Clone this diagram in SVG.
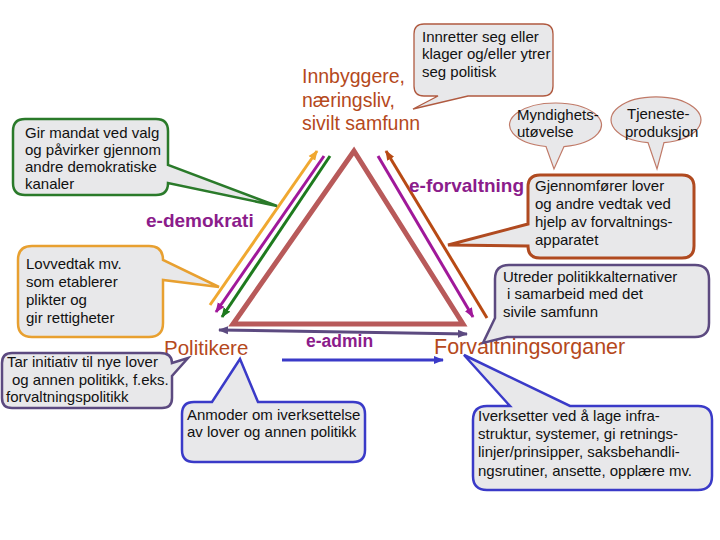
<svg xmlns="http://www.w3.org/2000/svg" width="720" height="540" viewBox="0 0 720 540">
<style>
.t{font-family:"Liberation Sans",Arial,sans-serif;font-size:15px;fill:#111}
.lbl{font-family:"Liberation Sans",Arial,sans-serif;fill:#b5491c}
.e{font-family:"Liberation Sans",Arial,sans-serif;font-weight:bold;fill:#8b1c8b}
.co{fill:#e8e8ea}
.ln{fill:none;stroke-width:3}
</style>
<defs>
<marker id="aO" viewBox="0 0 10 10" refX="9" refY="5" markerWidth="10" markerHeight="10" markerUnits="userSpaceOnUse" orient="auto-start-reverse"><path d="M0,1 L10,5 L0,9 Z" fill="#f0a830"/></marker>
<marker id="aM" viewBox="0 0 10 10" refX="9" refY="5" markerWidth="10" markerHeight="10" markerUnits="userSpaceOnUse" orient="auto-start-reverse"><path d="M0,1 L10,5 L0,9 Z" fill="#a0189a"/></marker>
<marker id="aG" viewBox="0 0 10 10" refX="9" refY="5" markerWidth="10" markerHeight="10" markerUnits="userSpaceOnUse" orient="auto-start-reverse"><path d="M0,1 L10,5 L0,9 Z" fill="#1e7a1e"/></marker>
<marker id="aB" viewBox="0 0 10 10" refX="9" refY="5" markerWidth="10" markerHeight="10" markerUnits="userSpaceOnUse" orient="auto-start-reverse"><path d="M0,1 L10,5 L0,9 Z" fill="#b84a14"/></marker>
<marker id="aP" viewBox="0 0 10 10" refX="9" refY="5" markerWidth="10" markerHeight="10" markerUnits="userSpaceOnUse" orient="auto-start-reverse"><path d="M0,1 L10,5 L0,9 Z" fill="#5c4a80"/></marker>
<marker id="aL" viewBox="0 0 10 10" refX="9" refY="5" markerWidth="10" markerHeight="10" markerUnits="userSpaceOnUse" orient="auto-start-reverse"><path d="M0,1 L10,5 L0,9 Z" fill="#3a3ac8"/></marker>
</defs>
<rect width="720" height="540" fill="#ffffff"/>

<g id="triangle">
<polygon points="354,151 233,324 463,324" fill="none" stroke="#b85a5a" stroke-width="5"/>
</g>

<g id="connectors">
<line class="ln" x1="210" y1="305" x2="317" y2="151" stroke="#f0a830" marker-end="url(#aO)"/>
<line class="ln" x1="324" y1="156" x2="216" y2="312" stroke="#a0189a" marker-end="url(#aM)"/>
<line class="ln" x1="330" y1="156" x2="222" y2="317" stroke="#1e7a1e" marker-end="url(#aG)"/>
<line class="ln" x1="378" y1="156" x2="473" y2="317" stroke="#a0189a" marker-end="url(#aM)"/>
<line class="ln" x1="487" y1="318" x2="386" y2="151" stroke="#b84a14" marker-end="url(#aB)"/>
<line class="ln" x1="219" y1="330" x2="467" y2="334" stroke="#5c4a80" marker-start="url(#aP)" marker-end="url(#aP)"/>
<line class="ln" x1="282" y1="360" x2="443" y2="360" stroke="#3a3ac8" marker-end="url(#aL)"/>
</g>

<g id="node-innbyggere">
<text class="lbl" font-size="19.5"><tspan x="302" y="83">Innbyggere,</tspan><tspan x="302" y="107">næringsliv,</tspan><tspan x="302" y="130">sivilt samfunn</tspan></text>
</g>
<g id="node-politikere">
<text class="lbl" font-size="20.5" x="164" y="355">Politikere</text>
</g>
<g id="node-forvaltningsorganer">
<text class="lbl" font-size="21.5" x="434" y="354">Forvaltningsorganer</text>
</g>
<g id="label-edemokrati"><text class="e" font-size="19" x="146" y="227">e-demokrati</text></g>
<g id="label-eforvaltning"><text class="e" font-size="19" x="409" y="192">e-forvaltning</text></g>
<g id="label-eadmin"><text class="e" font-size="17.5" x="306" y="347">e-admin</text></g>

<g id="callout-innretter">
<path class="co" stroke="#b05a40" stroke-width="1.3" d="M424,24 H543 Q553,24 553,34 V86 Q553,96 543,96 H468 L413,109 L438,96 H424 Q414,96 414,86 V34 Q414,24 424,24 Z"/>
<text class="t"><tspan x="422" y="42">Innretter seg eller</tspan><tspan x="422" y="59">klager og/eller ytrer</tspan><tspan x="422" y="77">seg politisk</tspan></text>
</g>

<g id="callout-myndighet">
<path class="co" stroke="#c07a68" stroke-width="1.2" d="M546,146.5 A46,22 0 1 1 564,146.6 L554,169 Z"/>
<text class="t"><tspan x="517" y="120">Myndighets-</tspan><tspan x="517" y="137">utøvelse</tspan></text>
</g>

<g id="callout-tjeneste">
<path class="co" stroke="#c07a68" stroke-width="1.2" d="M648,142.6 A45,23 0 1 1 664,142.6 L657,169 Z"/>
<text class="t"><tspan x="627" y="119">Tjeneste-</tspan><tspan x="625" y="137">produksjon</tspan></text>
</g>

<g id="callout-gjennomforer">
<path class="co" stroke="#b04a20" stroke-width="3" d="M540,175 H682 Q694,175 694,187 V246 Q694,258 682,258 H540 Q528,258 528,246 L448,245 L528,224 V187 Q528,175 540,175 Z"/>
<text class="t"><tspan x="535" y="191">Gjennomfører lover</tspan><tspan x="535" y="209">og andre vedtak ved</tspan><tspan x="535" y="227">hjelp av forvaltnings-</tspan><tspan x="535" y="245">apparatet</tspan></text>
</g>

<g id="callout-mandat">
<path class="co" stroke="#2a7a2a" stroke-width="2.5" d="M25,119 H156 Q168,119 168,131 V165 L277,206 L168,183 Q168,195 156,195 H25 Q13,195 13,183 V131 Q13,119 25,119 Z"/>
<text class="t"><tspan x="25" y="138">Gir mandat ved valg</tspan><tspan x="25" y="155">og påvirker gjennom</tspan><tspan x="25" y="172">andre demokratiske</tspan><tspan x="25" y="189">kanaler</tspan></text>
</g>

<g id="callout-lovvedtak">
<path class="co" stroke="#e8a030" stroke-width="2.5" d="M32,246 H149 Q163,246 163,260 L219,287 L163,280 V323 Q163,337 149,337 H32 Q18,337 18,323 V260 Q18,246 32,246 Z"/>
<text class="t"><tspan x="26" y="269">Lovvedtak mv.</tspan><tspan x="26" y="287">som etablerer</tspan><tspan x="26" y="305">plikter og</tspan><tspan x="26" y="323">gir rettigheter</tspan></text>
</g>

<g id="callout-initiativ">
<path class="co" stroke="#5c4a80" stroke-width="2.5" d="M12,353 H160 Q172,353 172,363 L188,358 L172,376 V398 Q172,408 162,408 H12 Q2,408 2,398 V363 Q2,353 12,353 Z"/>
<text class="t"><tspan x="7" y="367">Tar initiativ til nye lover</tspan><tspan x="12" y="385">og annen politikk, f.eks.</tspan><tspan x="6" y="402">forvaltningspolitikk</tspan></text>
</g>

<g id="callout-anmoder">
<path class="co" stroke="#3a3ac8" stroke-width="2.5" d="M194,402 H212 L240,359 L258,402 H353 Q365,402 365,414 V450 Q365,462 353,462 H194 Q182,462 182,450 V414 Q182,402 194,402 Z"/>
<text class="t"><tspan x="187" y="420">Anmoder om iverksettelse</tspan><tspan x="187" y="437">av lover og annen politikk</tspan></text>
</g>

<g id="callout-utreder">
<path class="co" stroke="#5c4a80" stroke-width="2.5" d="M509,265 H695 Q709,265 709,279 V323 Q709,337 695,337 H507 L483,343 L495,318 V279 Q495,265 509,265 Z"/>
<text class="t"><tspan x="503" y="282">Utreder politikkalternativer</tspan><tspan x="507" y="299">i samarbeid med det</tspan><tspan x="503" y="317">sivile samfunn</tspan></text>
</g>

<g id="callout-iverksetter">
<path class="co" stroke="#3a3ac8" stroke-width="2.5" d="M487,406 H510 L464,355 L570,406 H698 Q712,406 712,420 V476 Q712,490 698,490 H487 Q473,490 473,476 V420 Q473,406 487,406 Z"/>
<text class="t"><tspan x="478" y="421">Iverksetter ved å lage infra-</tspan><tspan x="478" y="439">struktur, systemer, gi retnings-</tspan><tspan x="478" y="457">linjer/prinsipper, saksbehandli-</tspan><tspan x="478" y="476">ngsrutiner, ansette, opplære mv.</tspan></text>
</g>
</svg>
